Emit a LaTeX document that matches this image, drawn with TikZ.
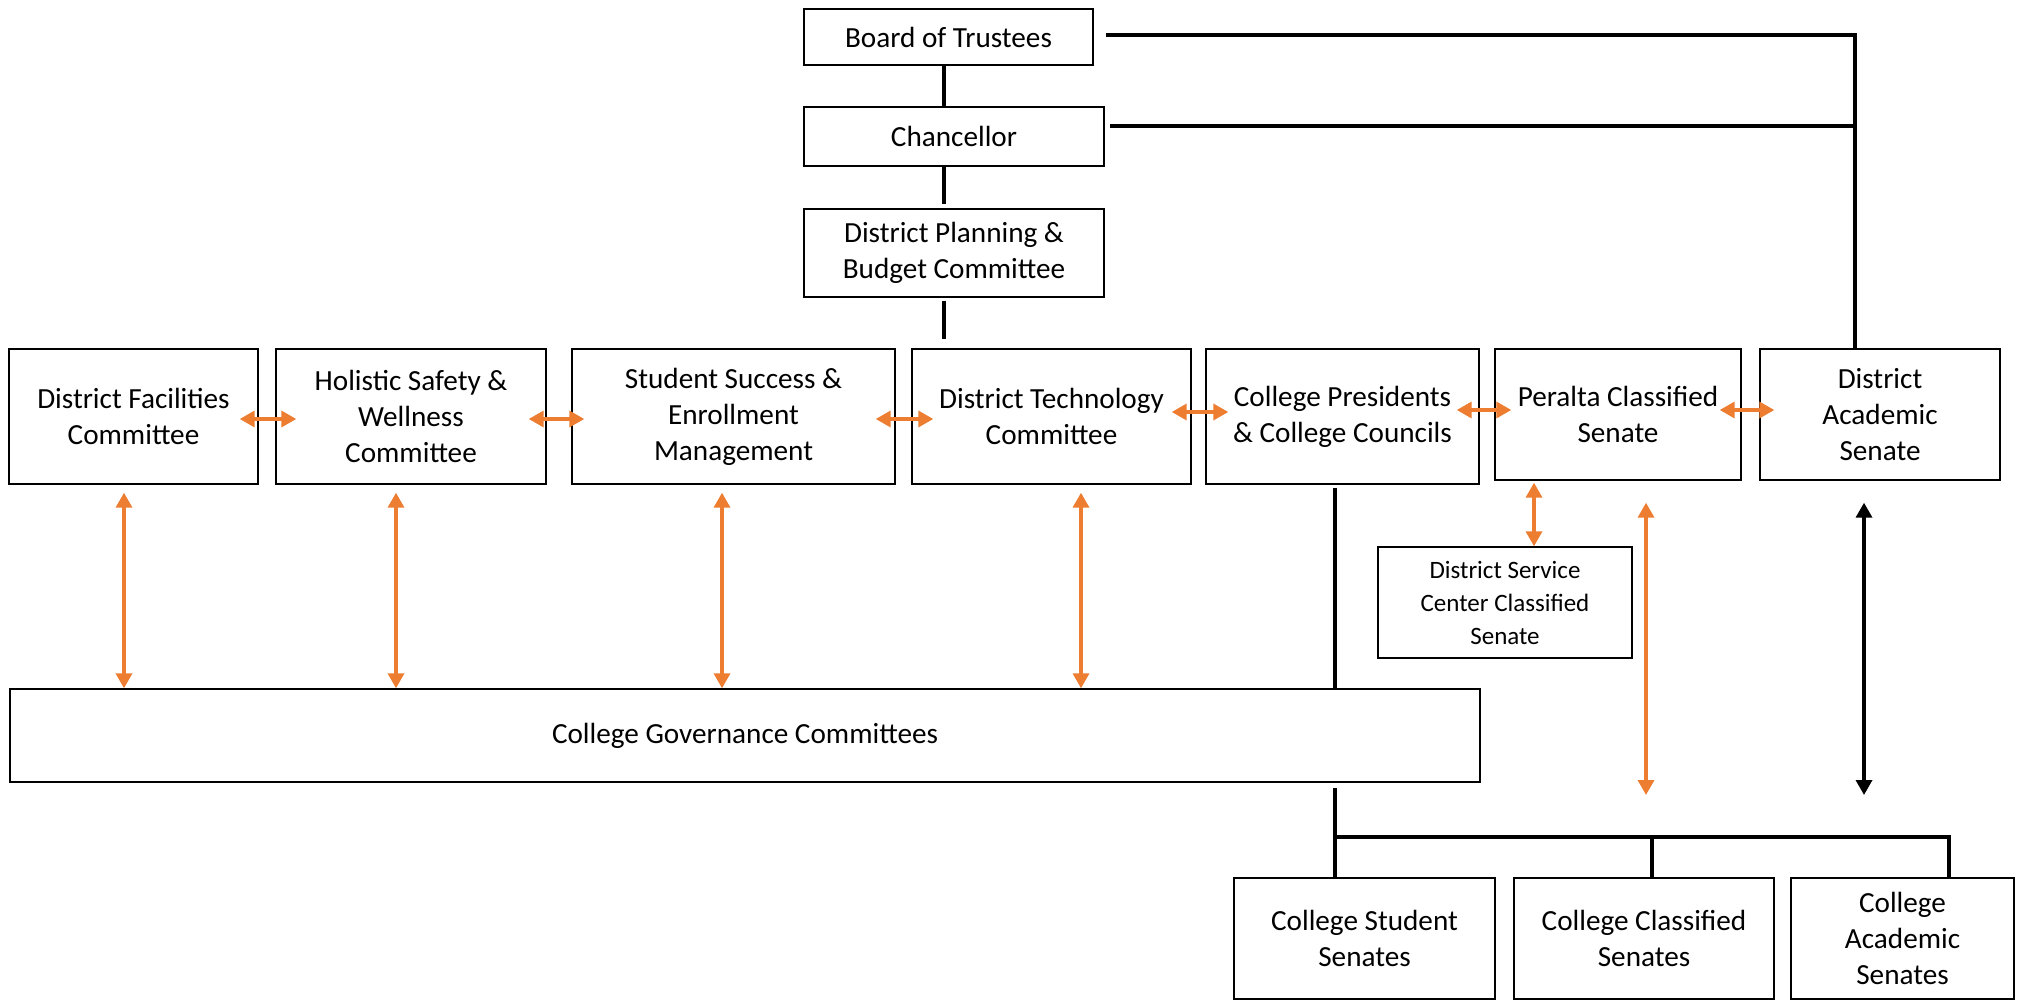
\documentclass[tikz,border=0pt]{standalone}
\usepackage{fontspec}
\setmainfont{Carlito}
\usetikzlibrary{arrows.meta}
\definecolor{org}{HTML}{ED7D31}
\begin{document}
\begin{tikzpicture}[x=0.5pt,y=-0.5pt,
 box/.style={draw, line width=0.7pt, align=center, inner sep=0pt, font=\fontsize{14.6}{18}\selectfont},
 blk/.style={line width=2.1pt},
 oar/.style={draw=org, line width=1.7pt, {Triangle[length=7.5pt,width=8pt,fill=org]}-{Triangle[length=7.5pt,width=8pt,fill=org]}},
 bar/.style={line width=1.7pt, {Triangle[length=7.5pt,width=8pt]}-{Triangle[length=7.5pt,width=8pt]}}]
\useasboundingbox (0,0) rectangle (2017,1005);

% boxes
\node[box, minimum width=144.5pt, minimum height=28pt] (bot) at (948.5,37) {Board of Trustees};
\node[box, minimum width=150pt, minimum height=29.5pt] (chan) at (954,136.5) {Chancellor};
\node[box, minimum width=150pt, minimum height=44pt] (dpb) at (954,253) {District Planning \&\\Budget Committee};
\node[box, minimum width=124.5pt, minimum height=67.5pt] (dfc) at (133.5,416.5) {District Facilities\\Committee};
\node[box, minimum width=135pt, minimum height=67.5pt] (hsw) at (411,416.5) {Holistic Safety \&\\Wellness\\Committee};
\node[box, minimum width=161.5pt, minimum height=67.5pt] (ssem) at (733.5,416.5) {Student Success \&\\Enrollment\\Management};
\node[box, minimum width=139.5pt, minimum height=67.5pt] (dtc) at (1051.5,416.5) {District Technology\\Committee};
\node[box, minimum width=136.5pt, minimum height=67.5pt] (cpcc) at (1342.5,416.5) {College Presidents\\\& College Councils};
\node[box, minimum width=123pt, minimum height=65.5pt] (pcs) at (1618,414.5) {Peralta Classified\\Senate};
\node[box, minimum width=120pt, minimum height=65.5pt] (das) at (1880,414.5) {District\\Academic\\Senate};
\node[box, minimum width=127pt, minimum height=55.5pt, font=\fontsize{12.5}{16.5}\selectfont] (dsccs) at (1505,602.5) {District Service\\Center Classified\\Senate};
\node[box, minimum width=735pt, minimum height=46.5pt] (cgc) at (745,735.5) {College Governance Committees};
\node[box, minimum width=130.5pt, minimum height=60.5pt] (css) at (1364.5,938.5) {College Student\\Senates};
\node[box, minimum width=130pt, minimum height=60.5pt] (ccs) at (1644,938.5) {College Classified\\Senates};
\node[box, minimum width=111.5pt, minimum height=60.5pt] (cas) at (1902.5,938.5) {College\\Academic\\Senates};

% helper coordinates
\coordinate (sp) at (944,0);
\coordinate (rs) at (1855,0);
\coordinate (b1) at (1106,35);
\coordinate (c1) at (1110,126);
\coordinate (v1) at (124,0);
\coordinate (v2) at (396,0);
\coordinate (v3) at (722,0);
\coordinate (v4) at (1081,0);
\coordinate (v5) at (1534,0);
\coordinate (v6) at (1646,0);
\coordinate (v7) at (1864,0);
\coordinate (oe) at (1646,795);
\coordinate (be) at (1864,795);
\coordinate (k) at (1335,0);
\coordinate (hb) at (1335,837);
\coordinate (k2) at (1652,0);
\coordinate (k3) at (1949,0);

% black spine
\draw[blk] (bot.south -| sp) -- (chan.north -| sp);
\draw[blk, shorten >=2pt] (chan.south -| sp) -- (dpb.north -| sp);
\draw[blk, shorten <=1.5pt, shorten >=4.5pt] (dpb.south -| sp) -- (dtc.north -| sp);
\draw[blk] (b1) -| (das.north -| rs);
\draw[blk] (c1) -- (c1 -| rs);

% horizontal orange arrows
\draw[oar] ([xshift=-9.5pt,yshift=-1.25pt]dfc.east) -- ([xshift=10.5pt,yshift=-1.25pt]hsw.west);
\draw[oar] ([xshift=-9pt,yshift=-1.25pt]hsw.east) -- ([xshift=6.5pt,yshift=-1.25pt]ssem.west);
\draw[oar] ([xshift=-10pt,yshift=-1.25pt]ssem.east) -- ([xshift=11pt,yshift=-1.25pt]dtc.west);
\draw[oar] ([xshift=-10pt,yshift=2.25pt]dtc.east) -- ([xshift=11.5pt,yshift=2.25pt]cpcc.west);
\draw[oar] ([xshift=-11.5pt,yshift=3.25pt]cpcc.east) -- ([xshift=8.5pt,yshift=2.25pt]pcs.west);
\draw[oar] ([xshift=-11pt,yshift=2.25pt]pcs.east) -- ([xshift=7.5pt,yshift=2.25pt]das.west);

% vertical orange arrows
\draw[oar, shorten <=4pt] (dfc.south -| v1) -- (cgc.north -| v1);
\draw[oar, shorten <=4pt] (hsw.south -| v2) -- (cgc.north -| v2);
\draw[oar, shorten <=4pt] (ssem.south -| v3) -- (cgc.north -| v3);
\draw[oar, shorten <=4pt] (dtc.south -| v4) -- (cgc.north -| v4);
\draw[oar, shorten <=1pt] (pcs.south -| v5) -- (dsccs.north -| v5);
\draw[oar, shorten <=11pt] (pcs.south -| v6) -- (oe);
\draw[bar, shorten <=11pt] (das.south -| v7) -- (be);

% college presidents tree
\draw[blk, shorten <=1.5pt] (cpcc.south -| k) -- (cgc.north -| k);
\draw[blk, shorten <=2.5pt] (cgc.south -| k) -- (css.north -| k);
\draw[blk] (hb) -- (hb -| k3) -- (cas.north -| k3);
\draw[blk] (hb -| k2) -- (ccs.north -| k2);
\end{tikzpicture}
\end{document}
